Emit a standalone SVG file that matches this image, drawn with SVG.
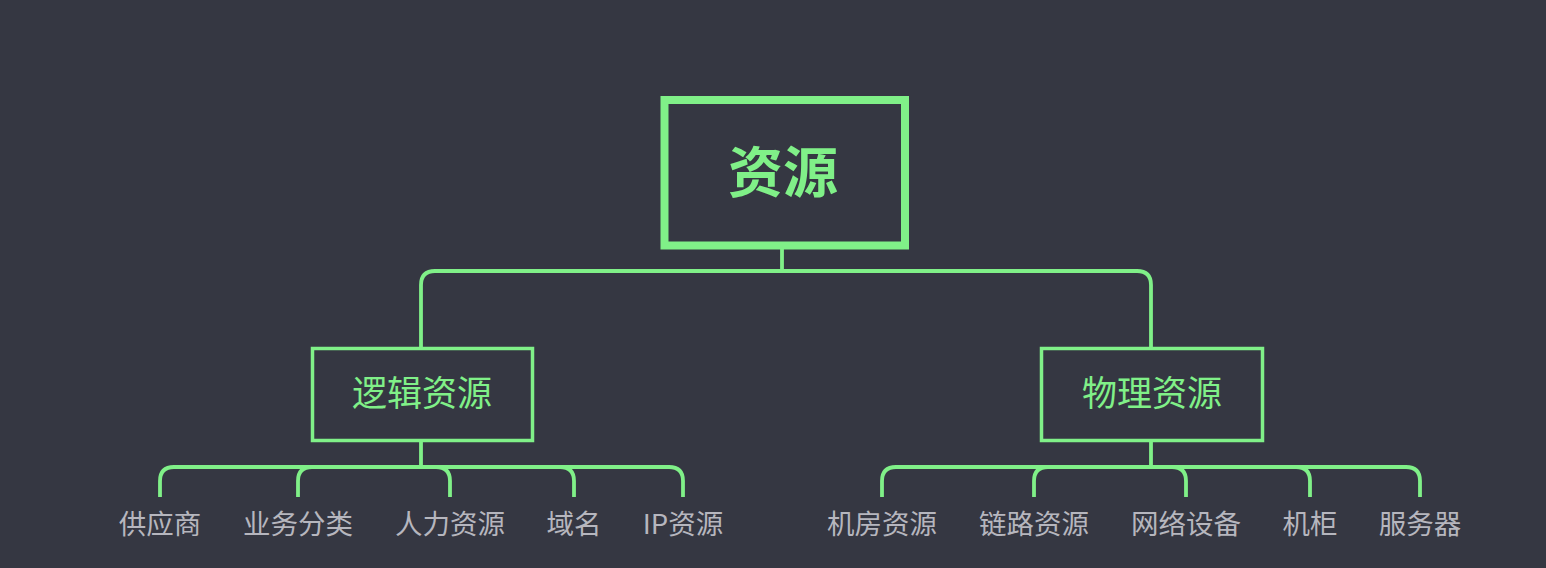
<svg xmlns="http://www.w3.org/2000/svg" width="1546" height="568" viewBox="0 0 1546 568">
<style>
.bg{fill:#353742}
.box{fill:none;stroke:#80F088}
.con{fill:none;stroke:#80F088;stroke-width:3.8;stroke-linecap:butt;stroke-linejoin:round}
.t1{font-family:"Noto Sans CJK SC","Noto Sans",sans-serif;fill:#80F088;text-anchor:middle}
.t2{font-family:"Noto Sans CJK SC","Noto Sans",sans-serif;fill:#B6B6BE;text-anchor:middle;font-size:27.5px}
</style>
<rect class="bg" x="0" y="0" width="1546" height="568"/>
<g id="connectors">
<path class="con" d="M782,249 V271 H435 Q421,271 421,285 V347"/>
<path class="con" d="M782,271 H1137 Q1151,271 1151,285 V347"/>
<path class="con" d="M421,442 V467 H174 Q160,467 160,481 V497"/>
<path class="con" d="M421,467 H312 Q298,467 298,481 V497"/>
<path class="con" d="M421,467 H436 Q450,467 450,481 V497"/>
<path class="con" d="M421,467 H560 Q574,467 574,481 V497"/>
<path class="con" d="M421,467 H669 Q683,467 683,481 V497"/>
<path class="con" d="M1151,442 V467 H896 Q882,467 882,481 V497"/>
<path class="con" d="M1151,467 H1048 Q1034,467 1034,481 V497"/>
<path class="con" d="M1151,467 H1172 Q1186,467 1186,481 V497"/>
<path class="con" d="M1151,467 H1296 Q1310,467 1310,481 V497"/>
<path class="con" d="M1151,467 H1406 Q1420,467 1420,481 V497"/>
</g>
<g id="root">
<rect class="box" x="664.5" y="100" width="240.5" height="145.5" stroke-width="8"/>
<text class="t1" x="783" y="192" font-size="55" font-weight="bold">资源</text>
</g>
<g id="logical">
<rect class="box" x="312.5" y="348.5" width="220" height="92" stroke-width="3.5"/>
<text class="t1" x="422" y="406" font-size="35">逻辑资源</text>
</g>
<g id="physical">
<rect class="box" x="1041.5" y="348.5" width="221" height="92" stroke-width="3.5"/>
<text class="t1" x="1152" y="406" font-size="35">物理资源</text>
</g>
<g id="l1"><text class="t2" x="160" y="534">供应商</text></g>
<g id="l2"><text class="t2" x="298" y="534">业务分类</text></g>
<g id="l3"><text class="t2" x="450" y="534">人力资源</text></g>
<g id="l4"><text class="t2" x="574" y="534">域名</text></g>
<g id="l5"><text class="t2" x="683" y="534">IP资源</text></g>
<g id="p1"><text class="t2" x="882" y="534">机房资源</text></g>
<g id="p2"><text class="t2" x="1034" y="534">链路资源</text></g>
<g id="p3"><text class="t2" x="1186" y="534">网络设备</text></g>
<g id="p4"><text class="t2" x="1310" y="534">机柜</text></g>
<g id="p5"><text class="t2" x="1420" y="534">服务器</text></g>
</svg>
